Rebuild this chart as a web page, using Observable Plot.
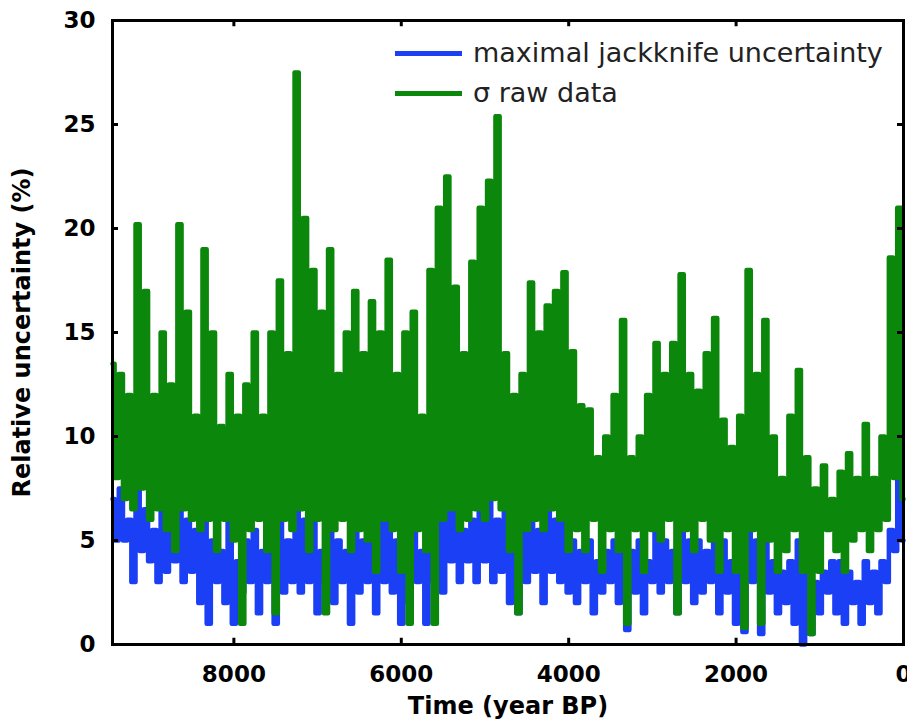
<!DOCTYPE html>
<html><head><meta charset="utf-8">
<script src="https://cdn.jsdelivr.net/npm/d3@7"></script>
<script src="https://cdn.jsdelivr.net/npm/@observablehq/plot@0.6"></script>
<style>
body{margin:0;background:#fff;}
#wrap{position:relative;width:907px;height:719px;overflow:hidden;}
.leg{position:absolute;left:395px;height:30px;line-height:30px;font-family:"DejaVu Sans";font-size:27px;color:#222;display:flex;align-items:center;white-space:nowrap;}
.sw{width:67px;height:5px;margin-right:11px;}
</style></head><body>
<div id="wrap"></div>
<script>
const startYear = 9450, stepYears = 50;
// sigma raw data (%), one value per 50 years from 9450 BP to 0 BP
const sigmaRaw = [
  13.5,8, 13,7, 12,6.5, 20.2,7.5, 17,6, 12,6.5, 15,5.5, 12.5,4.5, 20.2,6.5, 16,6,
  11,5.5, 19,6, 15,4.5, 10.5,6, 13,5, 11,1, 12.5,5.5, 15,6, 11,4.5, 15,1.5,
  17.5,6, 14,5.5, 27.5,6.5, 20.5,4.5, 18,6, 16,1.5, 19,5.5, 13,6, 15,4.5, 17,5.5,
  14,5, 16.5,3.5, 15,6, 18.5,5.5, 13,3.5, 15,1, 16,5.5, 11,4.5, 18,1, 21,6,
  22.5,6.5, 17.2,5.5, 14,6, 18.4,6.5, 21,6, 22.3,7, 25.4,6.5, 14,4.5, 12,1.5, 13,5.5,
  17.4,6, 15,5.5, 16.3,6.5, 17,6, 17.9,4.5, 14.1,5.5, 11.5,4.5, 11.3,6, 9,3.5, 10,5.5,
  12,4.5, 15.6,1, 9,5.5, 10,3.5, 12,5.5, 14.5,5, 13,6, 14.5,1.5, 17.8,5.5, 13,4.5,
  12.2,6, 14,5, 15.7,3.5, 10.8,5.5, 9.5,3.5, 11,0.8, 18,5.5, 13,1, 15.6,5, 10,3.5,
  8,4.5, 11,5.5, 13.2,3.5, 9,0.5, 7.5,3.5, 8.6,5.5, 7,4.5, 8.3,3.5, 9.2,5, 8,5.5,
  10.6,4.5, 8,5.5, 10,6, 18.6,8, 21,7
];
// maximal jackknife uncertainty (%), same sampling
const jackknife = [
  7,5, 7.5,5, 6,3, 10,4.5, 6.5,4, 5.5,3, 6.5,3.5, 5.5,4, 7,3, 6,3.5,
  5.5,2, 6.5,1, 5,3, 4.5,2, 6,1, 4,2.5, 5,3, 5.5,1.5, 4.5,3, 6,1,
  6.5,2.5, 5,3, 7,2.5, 6,3, 6.5,1.5, 4.5,3, 6.5,2, 5,3, 4.5,1, 7,2.5,
  5,3, 5.5,1.5, 6,3, 7,2.5, 5,1, 5,2, 6,3, 4.5,1, 9.5,3, 7,2.5,
  8,4, 7,3, 5.5,4, 6,3, 6.5,4, 7,3, 6,3.5, 7,2, 5,1.5, 5.5,3,
  6,3.5, 5.5,2, 7,3.5, 6,3, 6.5,2.5, 5,2, 4.5,3, 5,1.5, 4,2.5, 4.5,3,
  5,2, 6,0.7, 4.5,2.5, 5,1.5, 4,3, 5.5,2.5, 5,3, 4.5,1.5, 7,3, 5,2,
  5,2.5, 4.5,3, 6,1.5, 5,2.5, 4,1, 4.5,0.6, 6,3, 5,0.5, 5.5,2.5, 4,1.5,
  3.5,2, 4,1, 5,0, 4,0.5, 3,1.5, 3.5,2.5, 4,1.5, 4,1, 3.5,2, 3,1,
  4,2, 3.5,1.5, 4,3, 5.5,4.5, 8,5
];
const xTicks = [8000, 6000, 4000, 2000, 0];
const yTicks = [0, 5, 10, 15, 20, 25, 30];
const seriesNames = ["maximal jackknife uncertainty", "σ raw data"];
const colors = ["#1a3ff5", "#0b870b"];

const rows = (vals, name) => vals.map((v, i) => ({year: startYear - i * stepYears, value: v, series: name}));
const blue = rows(jackknife, seriesNames[0]);
const green = rows(sigmaRaw, seriesNames[1]);

const tickLenX = 72, tickLenY = 0.3;

const chart = Plot.plot({
  width: 907, height: 719,
  marginLeft: 112, marginRight: 4, marginTop: 20, marginBottom: 75,
  style: {fontFamily: "DejaVu Sans", fontSize: "23px", fontWeight: "bold", color: "#000", background: "#fff"},
  x: {domain: [startYear, 0]},
  y: {domain: [0, 30]},
  marks: [
    Plot.line(blue, {x: "year", y: "value", curve: "step", stroke: colors[0], strokeWidth: 4.5}),
    Plot.line(green, {x: "year", y: "value", curve: "step", stroke: colors[1], strokeWidth: 4.5}),
    Plot.ruleX(xTicks, {x: d => d, y1: 0, y2: tickLenY, strokeWidth: 3}),
    Plot.ruleX(xTicks, {x: d => d, y1: 30 - tickLenY, y2: 30, strokeWidth: 3}),
    Plot.ruleY(yTicks, {y: d => d, x1: startYear, x2: startYear - tickLenX, strokeWidth: 3}),
    Plot.ruleY(yTicks, {y: d => d, x1: 0, x2: tickLenX, strokeWidth: 3}),
    Plot.axisX(xTicks, {tickSize: 0, tickPadding: 21, fontSize: 23, fontWeight: "bold", label: null, tickFormat: d => String(d)}),
    Plot.axisY(yTicks, {tickSize: 0, tickPadding: 17, fontSize: 23, fontWeight: "bold", label: null, tickFormat: d => String(d)}),
    Plot.text(["Time (year BP)"], {frameAnchor: "bottom", dy: 62, lineAnchor: "middle", textAnchor: "middle", fontSize: 24, fontWeight: "bold"}),
    Plot.text(["Relative uncertainty (%)"], {frameAnchor: "left", rotate: -90, dx: -90, textAnchor: "middle", lineAnchor: "middle", fontSize: 24, fontWeight: "bold"}),
    Plot.frame({stroke: "#000", strokeWidth: 3})
  ]
});
const wrap = document.getElementById("wrap");
wrap.appendChild(chart);
const tops = [38, 78];
seriesNames.forEach((name, i) => {
  const d = document.createElement("div");
  d.className = "leg";
  d.style.top = tops[i] + "px";
  const sw = document.createElement("span");
  sw.className = "sw";
  sw.style.background = colors[i];
  const t = document.createElement("span");
  t.textContent = name;
  d.appendChild(sw); d.appendChild(t);
  wrap.appendChild(d);
});
</script>
</body></html>
